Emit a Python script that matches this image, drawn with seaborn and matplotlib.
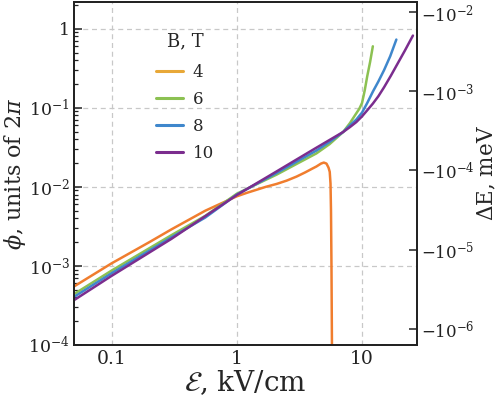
import numpy as np
import pandas as pd
import matplotlib
matplotlib.use("Agg")
import matplotlib.pyplot as plt
from matplotlib.lines import Line2D
from matplotlib.ticker import FuncFormatter, NullLocator, LogLocator
import seaborn as sns

# field (kV/cm) and phase (units of 2pi), one pair per B
field_4 = [0.05, 0.1, 0.2, 0.3, 0.56, 0.77, 1.0, 1.2, 1.44, 1.7, 2.08, 2.5, 3.0,
           3.5, 4.0, 4.32, 4.7, 4.95, 5.2, 5.4, 5.52, 5.6, 5.65, 5.7, 5.75, 5.78]
phi_4 = [5.5e-4, 1.08e-3, 2.0e-3, 2.9e-3, 5.0e-3, 6.3e-3, 7.6e-3, 8.4e-3, 9.2e-3,
         1.0e-2, 1.09e-2, 1.2e-2, 1.35e-2, 1.52e-2, 1.7e-2, 1.81e-2, 1.97e-2,
         2.03e-2, 1.97e-2, 1.75e-2, 1.55e-2, 1.1e-2, 5e-3, 1e-3, 1e-4, 1e-6]

field_6 = [0.05, 0.1, 0.3, 0.56, 1.0, 2.08, 3.0, 4.32, 5.5, 6.3, 7.07, 8.0, 8.9,
           9.5, 10.0, 10.5, 11.0, 11.6, 12.2]
phi_6 = [4.4e-4, 8.75e-4, 2.45e-3, 4.3e-3, 8.2e-3, 1.43e-2, 1.95e-2, 2.65e-2,
         3.47e-2, 4.2e-2, 4.95e-2, 6.4e-2, 8.3e-2, 9.7e-2, 1.15e-1, 1.65e-1,
         2.5e-1, 3.8e-1, 6.0e-1]

field_8 = [0.05, 0.1, 0.3, 0.56, 1.0, 2.08, 3.0, 4.32, 5.5, 7.07, 8.0, 9.0, 10.0,
           11.0, 12.2, 13.5, 15.0, 16.8, 18.8]
phi_8 = [4.06e-4, 8.1e-4, 2.3e-3, 4.1e-3, 8.0e-3, 1.5e-2, 2.08e-2, 2.88e-2,
         3.7e-2, 4.95e-2, 6.0e-2, 7.1e-2, 8.7e-2, 1.15e-1, 1.6e-1, 2.15e-1,
         3.0e-1, 4.5e-1, 7.3e-1]

field_10 = [0.05, 0.1, 0.3, 1.0, 2.08, 3.0, 4.32, 7.07, 8.0, 9.0, 10.0, 11.0,
            12.2, 13.5, 15.0, 17.0, 19.1, 22.0, 25.5]
phi_10 = [3.69e-4, 7.5e-4, 2.2e-3, 7.9e-3, 1.57e-2, 2.22e-2, 3.13e-2, 4.95e-2,
          5.7e-2, 6.6e-2, 7.8e-2, 9.3e-2, 1.13e-1, 1.4e-1, 1.82e-1, 2.55e-1,
          3.55e-1, 5.3e-1, 8.2e-1]

b_labels = ["4", "6", "8", "10"]
line_colors = ["#f07d2e", "#8cc152", "#3f87cc", "#7b2d8e"]
legend_colors = ["#e8a838", "#8cc152", "#3f87cc", "#7b2d8e"]

de_factor = 6.2e-3

df = pd.concat([
    pd.DataFrame({"E": field_4, "phi": phi_4, "B": "4"}),
    pd.DataFrame({"E": field_6, "phi": phi_6, "B": "6"}),
    pd.DataFrame({"E": field_8, "phi": phi_8, "B": "8"}),
    pd.DataFrame({"E": field_10, "phi": phi_10, "B": "10"}),
], ignore_index=True)

sns.set_style("white")
plt.rcParams["font.family"] = ["DejaVu Serif"]
plt.rcParams["mathtext.fontset"] = "dejavuserif"

fig = plt.figure(figsize=(4.98, 4.11), dpi=100)
ax = fig.add_axes([0.1486, 0.1606, 0.6888, 0.8353])

sns.lineplot(data=df, x="E", y="phi", hue="B", hue_order=b_labels,
             palette=dict(zip(b_labels, line_colors)), linewidth=1.8,
             legend=False, sort=False, ax=ax)

ax.set_xscale("log")
ax.set_yscale("log")
ax.set_xlim(0.05, 27.5)
ax.set_ylim(1e-4, 2.2)

ax.grid(True, which="major", color="#c8c8c8", linestyle=(0, (4, 3)), linewidth=0.9)
ax.xaxis.set_major_formatter(FuncFormatter(lambda v, p: "%g" % v))
ax.yaxis.set_major_formatter(FuncFormatter(
    lambda v, p: "1" if abs(v - 1) < 1e-9 else r"$10^{%d}$" % round(np.log10(v))))
ax.yaxis.set_minor_locator(LogLocator(base=10, subs=np.arange(2, 10)))
ax.xaxis.set_minor_locator(LogLocator(base=10, subs=np.arange(2, 10)))

ax.tick_params(which="both", direction="in", colors="#222222",
               top=False, right=False)
ax.tick_params(axis="x", labelsize=13.5)
ax.tick_params(axis="y", labelsize=12.5, pad=3)
ax.tick_params(which="major", length=6, width=1.1)
ax.tick_params(which="minor", length=3, width=0.9)

ax.set_xlabel(r"$\mathcal{E}$, kV/cm", fontsize=20, labelpad=0)
ax.set_ylabel(r"$\phi$, units of $2\pi$", fontsize=16, labelpad=0)

for s in ax.spines.values():
    s.set_linewidth(1.3)
    s.set_color("#222222")

# right axis: energy shift
ax2 = ax.twinx()
ax2.set_yscale("log")
ax2.set_ylim(1e-4 * de_factor, 2.2 * de_factor)
ax2.yaxis.set_minor_locator(NullLocator())
ax2.yaxis.set_major_formatter(FuncFormatter(
    lambda v, p: "\u2212" + r"$10^{%d}$" % round(np.log10(v))))
ax2.tick_params(which="major", direction="in", length=6, width=1.1,
                colors="#222222", labelsize=12, pad=3)
ax2.grid(False)
ax2.set_ylabel(r"$\Delta$E, meV", fontsize=15.5, labelpad=1)
for s in ax2.spines.values():
    s.set_linewidth(1.3)
    s.set_color("#222222")

handles = [Line2D([], [], color=c, linewidth=2.2) for c in legend_colors]
leg = ax.legend(handles, b_labels, title="B, T", loc="upper left",
                bbox_to_anchor=(0.215, 0.925), frameon=False, fontsize=12,
                title_fontsize=13, handlelength=1.6, handletextpad=0.6,
                labelspacing=0.6, borderpad=0)
leg.get_title().set_position((0, 3))

fig.savefig("out.png", dpi=100)
